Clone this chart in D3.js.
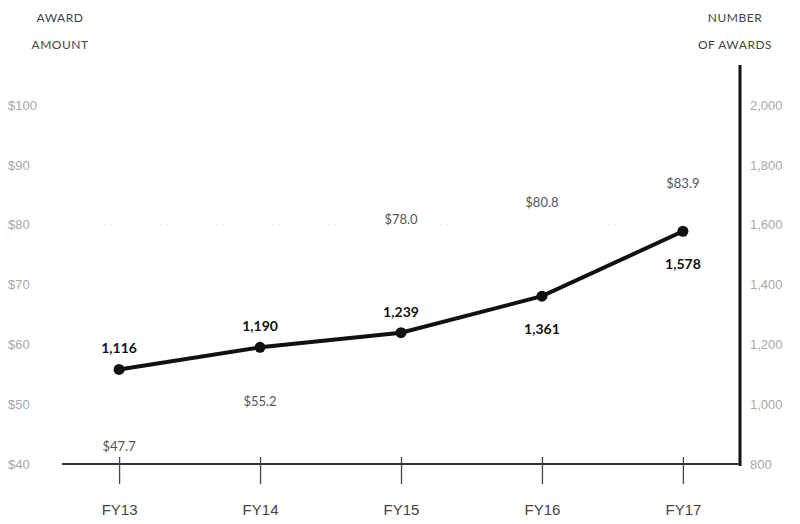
<!DOCTYPE html>
<html>
<head>
<meta charset="utf-8">
<script src="https://cdn.jsdelivr.net/npm/d3@7"></script>
<style>
  body { margin: 0; background: #fff; }
  svg { display: block; font-family: Lato, "Open Sans", sans-serif; }
</style>
</head>
<body>
<div class="chart"></div>
<script>
const years = ["FY13", "FY14", "FY15", "FY16", "FY17"]
const awardAmount = [47.7, 55.2, 78.0, 80.8, 83.9]
const awardCount = [1116, 1190, 1239, 1361, 1578]
const amountTicks = [40, 50, 60, 70, 80, 90, 100]
const countTicks = [800, 1000, 1200, 1400, 1600, 1800, 2000]

const data = years.map((y, i) => ({ year: y, amount: awardAmount[i], count: awardCount[i] }))

const dims = {
  width: 800,
  height: 524,
  margin: { top: 105, right: 60, bottom: 60, left: 62 }
}
dims.boundedWidth = dims.width - dims.margin.left - dims.margin.right
dims.boundedHeight = dims.height - dims.margin.top - dims.margin.bottom

const xScale = d3.scalePoint()
  .domain(years)
  .range([0, dims.boundedWidth])
  .padding(0.405)

const yAmount = d3.scaleLinear()
  .domain([40, 100])
  .range([dims.boundedHeight, 0])

const yCount = d3.scaleLinear()
  .domain([800, 2000])
  .range([dims.boundedHeight, 0])

const svg = d3.select(".chart").append("svg")
    .attr("width", dims.width)
    .attr("height", dims.height)

const bounds = svg.append("g")
    .attr("transform", `translate(${dims.margin.left},${dims.margin.top})`)

// faint dotted gridline at $80
bounds.append("line")
    .attr("x1", 0)
    .attr("x2", dims.boundedWidth)
    .attr("y1", yAmount(80))
    .attr("y2", yAmount(80))
    .attr("stroke", "#e4e4e4")
    .attr("stroke-dasharray", "1,6")

// award amount bars (washed out in the source)
const barWidth = 80
bounds.selectAll(".bar")
  .data(data)
  .join("rect")
    .attr("class", "bar")
    .attr("x", d => xScale(d.year) - barWidth / 2)
    .attr("y", d => yAmount(d.amount))
    .attr("width", barWidth)
    .attr("height", d => dims.boundedHeight - yAmount(d.amount))
    .attr("fill", "#ffffff")

// left axis labels
const leftAxis = d3.axisLeft(yAmount)
  .tickValues(amountTicks)
  .tickSize(0)
  .tickPadding(0)
  .tickFormat(d => "$" + d)
bounds.append("g")
  .call(leftAxis)
  .call(g => g.select(".domain").remove())
  .call(g => g.selectAll(".tick text")
    .attr("x", -54)
    .attr("text-anchor", "start")
    .attr("fill", "#a8a8a8")
    .style("font-size", "13px")
    .style("font-weight", 300))

// right axis
const rightAxis = d3.axisRight(yCount)
  .tickValues(countTicks)
  .tickSize(0)
  .tickPadding(10)
  .tickFormat(d3.format(","))
bounds.append("g")
  .attr("transform", `translate(${dims.boundedWidth},0)`)
  .call(rightAxis)
  .call(g => g.select(".domain").remove())
  .call(g => g.selectAll(".tick text")
    .attr("fill", "#a8a8a8")
    .style("font-size", "13px")
    .style("font-weight", 300))

bounds.append("line")
    .attr("x1", dims.boundedWidth)
    .attr("x2", dims.boundedWidth)
    .attr("y1", -40)
    .attr("y2", dims.boundedHeight + 2)
    .attr("stroke", "#111")
    .attr("stroke-width", 3)

// bottom axis
const xAxis = d3.axisBottom(xScale)
  .tickSize(20)
  .tickPadding(20)
bounds.append("g")
  .attr("transform", `translate(0,${dims.boundedHeight})`)
  .call(xAxis)
  .call(g => g.select(".domain")
    .attr("d", `M0,0H${dims.boundedWidth}`)
    .attr("stroke", "#333")
    .attr("stroke-width", 2))
  .call(g => g.selectAll(".tick line")
    .attr("y1", -7)
    .attr("stroke", "#444")
    .attr("stroke-width", 1.3))
  .call(g => g.selectAll(".tick text")
    .attr("fill", "#444")
    .style("font-size", "15px"))

// number of awards line
const lineGenerator = d3.line()
  .x(d => xScale(d.year))
  .y(d => yCount(d.count))

bounds.append("path")
    .datum(data)
    .attr("d", lineGenerator)
    .attr("fill", "none")
    .attr("stroke", "#111")
    .attr("stroke-width", 4)

bounds.selectAll(".dot")
  .data(data)
  .join("circle")
    .attr("class", "dot")
    .attr("cx", d => xScale(d.year))
    .attr("cy", d => yCount(d.count))
    .attr("r", 5.5)
    .attr("fill", "#111")

// count labels: above the point, except the last two which sit below
bounds.selectAll(".count-label")
  .data(data)
  .join("text")
    .attr("class", "count-label")
    .attr("x", d => xScale(d.year))
    .attr("y", (d, i) => yCount(d.count) + (i >= 3 ? 38 : -16))
    .attr("text-anchor", "middle")
    .attr("fill", "#111")
    .style("font-size", "14px")
    .style("font-weight", 700)
    .text(d => d3.format(",")(d.count))

// amount labels
bounds.selectAll(".amount-label")
  .data(data)
  .join("text")
    .attr("class", "amount-label")
    .attr("x", d => xScale(d.year))
    .attr("y", d => yAmount(d.amount) + (d.amount < 60 ? 33 : -13))
    .attr("text-anchor", "middle")
    .attr("fill", "#555")
    .style("font-size", "13px")
    .text(d => "$" + d3.format(".1f")(d.amount))

// axis titles
const titles = [
  { x: 60, lines: ["AWARD", "AMOUNT"] },
  { x: 735, lines: ["NUMBER", "OF AWARDS"] }
]
svg.selectAll(".title")
  .data(titles)
  .join("text")
    .attr("class", "title")
    .attr("text-anchor", "middle")
    .attr("fill", "#444")
    .style("font-size", "12px")
    .style("letter-spacing", "0.5px")
    .selectAll("tspan")
    .data(d => d.lines.map(l => ({ x: d.x, l })))
    .join("tspan")
      .attr("x", d => d.x)
      .attr("y", (d, i) => 22 + i * 27)
      .text(d => d.l)
</script>
</body>
</html>
